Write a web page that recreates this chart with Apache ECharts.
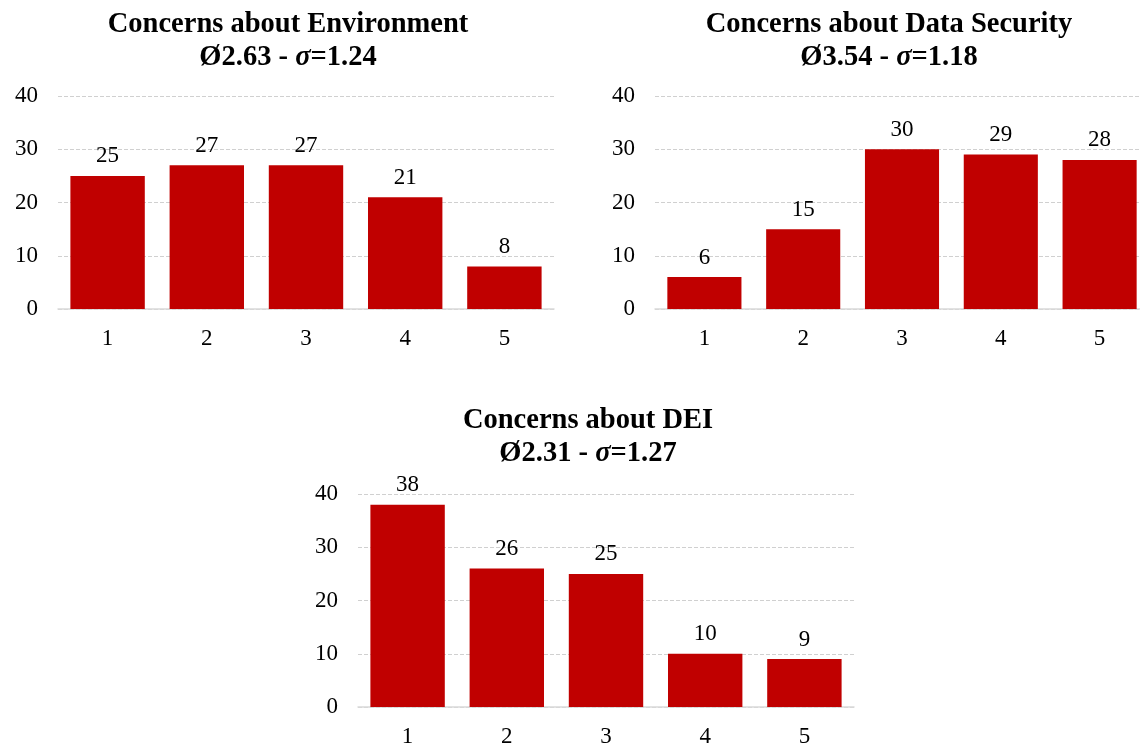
<!DOCTYPE html>
<html>
<head>
<meta charset="utf-8">
<script src="https://cdn.jsdelivr.net/npm/echarts@6/dist/echarts.min.js"></script>
<style>
  html, body { margin: 0; padding: 0; background: #fff; }
  #chart { width: 1140px; height: 747px; }
</style>
</head>
<body>
<div id="chart"></div>
<script>
const chart = echarts.init(document.getElementById("chart"));

// data
const categories = ["1", "2", "3", "4", "5"];
const environment = [25, 27, 27, 21, 8];
const dataSecurity = [6, 15, 30, 29, 28];
const dei = [38, 26, 25, 10, 9];
const titles = [
  { name: "Concerns about Environment", mean: "2.63", sd: "1.24" },
  { name: "Concerns about Data Security", mean: "3.54", sd: "1.18" },
  { name: "Concerns about DEI", mean: "2.31", sd: "1.27" },
];
const yTicks = { min: 0, max: 40, interval: 10 };

const font = "'Liberation Serif', 'Times New Roman', serif";
const barColor = "#C00000";

// the second chart runs past the right edge of the picture
const grids = [
  { left: 58, top: 96, width: 496, height: 213, outerBoundsMode: "none" },
  { left: 655, top: 96, width: 494, height: 213, outerBoundsMode: "none" },
  { left: 358, top: 494, width: 496, height: 213, outerBoundsMode: "none" },
];
const titlePos = [
  { x: 288, y: 8 },
  { x: 889, y: 8 },
  { x: 588, y: 404 },
];
const seriesData = [environment, dataSecurity, dei];

const titleStyle = { fontFamily: font, fontSize: 28.5, fontWeight: "bold", color: "#000", lineHeight: 33 };

const option = {
  animation: false,
  title: titles.map((t, i) => ({
    text: t.name + "\n{a|Ø" + t.mean + " - }{s|σ}{a|=" + t.sd + "}",
    left: titlePos[i].x,
    top: titlePos[i].y,
    textAlign: "center",
    padding: 0,
    textStyle: Object.assign({}, titleStyle, {
      rich: {
        a: titleStyle,
        s: Object.assign({}, titleStyle, { fontStyle: "italic" }),
      },
    }),
  })),
  grid: grids,
  xAxis: grids.map((g, i) => ({
    type: "category",
    gridIndex: i,
    data: categories,
    axisLine: { lineStyle: { color: "#d9d9d9", width: 1.5 } },
    axisTick: { show: false },
    axisLabel: { fontFamily: font, fontSize: 23, color: "#000", margin: 18 },
  })),
  yAxis: grids.map((g, i) => ({
    type: "value",
    gridIndex: i,
    min: yTicks.min,
    max: yTicks.max,
    interval: yTicks.interval,
    axisLine: { show: false },
    axisTick: { show: false },
    axisLabel: { fontFamily: font, fontSize: 23, color: "#000", margin: 20 },
    splitLine: { lineStyle: { color: "#d0d0d0", type: [4, 2] } },
  })),
  series: seriesData.map((d, i) => ({
    type: "bar",
    xAxisIndex: i,
    yAxisIndex: i,
    data: d,
    barCategoryGap: "25%",
    itemStyle: { color: barColor },
    label: {
      show: true,
      position: "top",
      distance: 8,
      fontFamily: font,
      fontSize: 23,
      color: "#000",
    },
  })),
};

chart.setOption(option);
</script>
</body>
</html>
